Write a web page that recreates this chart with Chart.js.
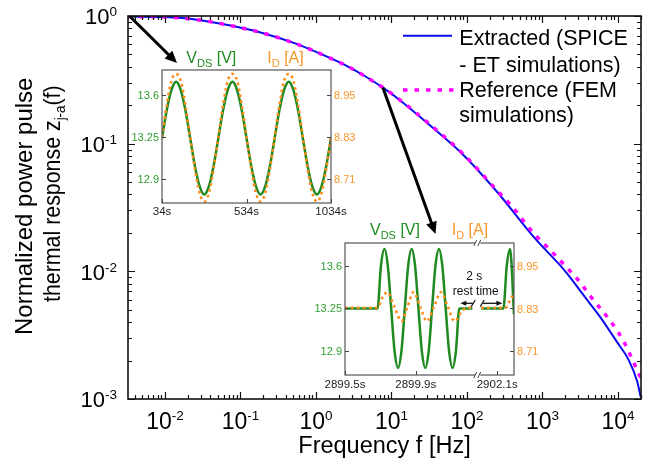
<!DOCTYPE html>
<html><head><meta charset="utf-8">
<script src="https://cdn.jsdelivr.net/npm/chart.js@4.4.1/dist/chart.umd.min.js"></script>
<style>
html,body{margin:0;padding:0;background:#fff;}
#wrap{position:relative;width:657px;height:461px;overflow:hidden;background:#fff;}
#wrap canvas{position:absolute;}
</style></head><body>
<div id="wrap">
<canvas id="main" width="657" height="461" style="left:0;top:0"></canvas>
<canvas id="in1" width="245" height="180" style="left:120px;top:42px"></canvas>
<canvas id="in2" width="250" height="182" style="left:298px;top:214px"></canvas>
</div>
<script>
// ---------------- main chart data ----------------
const freqExtracted = [0.00324, 0.01, 0.025, 0.068, 0.19, 0.53, 1.4, 2.7, 4.2, 7.7, 12, 32, 89, 250, 760, 2100, 3500, 5800, 9700, 14000, 18000, 20000];
const zExtracted    = [0.99, 0.98, 0.94, 0.85, 0.74, 0.61, 0.48, 0.40, 0.345, 0.275, 0.227, 0.14, 0.082, 0.042, 0.0187, 0.0097, 0.0065, 0.0044, 0.0028, 0.0020, 0.00137, 0.00104];
const freqReference = [0.00324, 0.01, 0.025, 0.068, 0.19, 0.53, 1.4, 2.7, 4.2, 7.7, 12, 32, 89, 250, 400, 750, 1200, 1900, 3000, 4500, 8400, 12000, 16000, 18500, 20200];
const zReference    = [0.99, 0.98, 0.94, 0.85, 0.74, 0.61, 0.48, 0.40, 0.345, 0.275, 0.228, 0.142, 0.083, 0.043, 0.032, 0.0201, 0.0152, 0.0114, 0.0085, 0.0062, 0.0039, 0.0028, 0.00196, 0.00162, 0.00146];
const xTickExponents = [-2, -1, 0, 1, 2, 3, 4];
const yTickExponents = [-3, -2, -1, 0];
const legendExtracted = ['Extracted (SPICE', '- ET simulations)'];
const legendReference = ['Reference (FEM', 'simulations)'];
const xTitle = 'Frequency f [Hz]';
const yTitle1 = 'Normalized power pulse';
const yTitle2 = ['thermal response z', 'j-a', '(f)'];
const arrowFromFreq = [0.00324, 7.7];
const arrowFromZ = [0.99, 0.275];

// ---------------- inset 1 (34 s .. 1034 s) ----------------
const inset1Time = [34, 61.8, 89.6, 117.3, 145.1, 172.9, 200.7, 228.4, 256.2, 284, 311.8, 339.6, 367.3, 395.1, 422.9, 450.7, 478.4, 506.2, 534, 561.8, 589.6, 617.3, 645.1, 672.9, 700.7, 728.4, 756.2, 784, 811.8, 839.6, 867.3, 895.1, 922.9, 950.7, 978.4, 1006.2, 1034];
const inset1Vds = [13.24, 13.47, 13.64, 13.71, 13.64, 13.47, 13.24, 13.01, 12.84, 12.77, 12.84, 13.01,
                   13.24, 13.47, 13.64, 13.71, 13.64, 13.47, 13.24, 13.01, 12.84, 12.77, 12.84, 13.01,
                   13.24, 13.47, 13.64, 13.71, 13.64, 13.47, 13.24, 13.01, 12.84, 12.77, 12.84, 13.01, 13.24];
const inset1Id = [8.83, 8.92, 8.99, 9.01, 8.99, 8.92, 8.83, 8.74, 8.67, 8.645, 8.67, 8.74,
                  8.83, 8.92, 8.99, 9.01, 8.99, 8.92, 8.83, 8.74, 8.67, 8.645, 8.67, 8.74,
                  8.83, 8.92, 8.99, 9.01, 8.99, 8.92, 8.83, 8.74, 8.67, 8.645, 8.67, 8.74, 8.83];
const inset1XTicks = [34, 534, 1034];
const inset1XLabels = ['34s', '534s', '1034s'];

// ---------------- inset 2 (2899.5 s .. 2902.2 s, broken axis) ----------------
const inset2VdsTime = [2899.5, 2899.684, 2899.703, 2899.723, 2899.742, 2899.761, 2899.780, 2899.800, 2899.819, 2899.838, 2899.857, 2899.877, 2899.896, 2899.915, 2899.934, 2899.954, 2899.973, 2899.992, 2900.011, 2900.031, 2900.050, 2900.069, 2900.088, 2900.108, 2900.127, 2900.146, 2900.22, 2901.5, 2902.01, 2902.135, 2902.154, 2902.173, 2902.195];
const inset2Vds = [13.25, 13.25, 13.60, 13.74, 13.60, 13.25, 12.90, 12.76, 12.90, 13.25, 13.60, 13.74, 13.60, 13.25, 12.90, 12.76, 12.90, 13.25, 13.60, 13.74, 13.60, 13.25, 12.90, 12.76, 12.90, 13.25, 13.25, null, 13.25, 13.25, 13.60, 13.74, 13.20];
const inset2IdTime = [2899.5, 2899.684, 2899.711, 2899.738, 2899.779, 2899.82, 2899.853, 2899.887, 2899.925, 2899.963, 2900.003, 2900.043, 2900.081, 2900.119, 2900.16, 2900.195, 2900.22, 2901.5, 2902.01, 2902.147, 2902.172, 2902.195];
const inset2Id = [8.832, 8.832, 8.86, 8.876, 8.835, 8.794, 8.835, 8.876, 8.835, 8.794, 8.835, 8.876, 8.835, 8.794, 8.822, 8.832, 8.832, null, 8.832, 8.832, 8.852, 8.872];
const inset2XTicks = [2899.5, 2899.9, 2902.1];
const inset2XLabels = ['2899.5s', '2899.9s', '2902.1s'];
const inset2Break = [2900.25, 2901.99];
const inset2RestLabel = ['2 s', 'rest time'];

const vdsTicks = [12.9, 13.25, 13.6];
const idTicks = [8.71, 8.83, 8.95];

const F = "'Liberation Sans', Arial, Helvetica, sans-serif";
Chart.defaults.font.family = F;
const GREEN = '#1f8a1f', GREEN_TXT = '#2f9e2f', ORANGE = '#ff8c1a', ORANGE_TXT = '#f7962a';

function logTicks(min, max) {
  const out = [];
  for (let d = Math.floor(Math.log10(min)); d <= Math.ceil(Math.log10(max)); d++) {
    for (let m = 1; m < 10; m++) {
      const v = m * Math.pow(10, d);
      if (v >= min * 0.999 && v <= max * 1.001) out.push({ v, major: m === 1 });
    }
  }
  return out;
}
function drawPow(ctx, exp, x, y, align, baseSize, expSize, rise) {
  ctx.font = baseSize + 'px ' + F; const wb = ctx.measureText('10').width;
  ctx.font = expSize + 'px ' + F; const es = String(exp); const we = ctx.measureText(es).width;
  const x0 = align === 'center' ? x - (wb + we) / 2 : x - (wb + we);
  ctx.textAlign = 'left'; ctx.textBaseline = 'alphabetic';
  ctx.font = baseSize + 'px ' + F; ctx.fillText('10', x0, y);
  ctx.font = expSize + 'px ' + F; ctx.fillText(es, x0 + wb, y - rise);
}
function arrow(ctx, x0, y0, x1, y1, lw, hl, hw) {
  const ang = Math.atan2(y1 - y0, x1 - x0);
  const bx = x1 - hl * Math.cos(ang), by = y1 - hl * Math.sin(ang);
  ctx.lineWidth = lw; ctx.beginPath(); ctx.moveTo(x0, y0); ctx.lineTo(bx + 1 * Math.cos(ang), by + 1 * Math.sin(ang)); ctx.stroke();
  ctx.beginPath(); ctx.moveTo(x1, y1);
  ctx.lineTo(bx + hw / 2 * Math.sin(ang), by - hw / 2 * Math.cos(ang));
  ctx.lineTo(bx - hw / 2 * Math.sin(ang), by + hw / 2 * Math.cos(ang));
  ctx.closePath(); ctx.fill();
}

const mainDeco = {
  id: 'mainDeco',
  afterDraw(chart) {
    const ctx = chart.ctx, a = chart.chartArea, xs = chart.scales.x, ys = chart.scales.y;
    ctx.save();
    ctx.strokeStyle = '#111'; ctx.lineWidth = 1.2;
    ctx.beginPath();
    for (const t of logTicks(xs.min, xs.max)) {
      const px = Math.round(xs.getPixelForValue(t.v)) + 0.5, L = t.major ? 7 : 4;
      ctx.moveTo(px, a.bottom); ctx.lineTo(px, a.bottom - L);
      ctx.moveTo(px, a.top); ctx.lineTo(px, a.top + L);
    }
    for (const t of logTicks(ys.min, ys.max)) {
      const py = Math.round(ys.getPixelForValue(t.v)) + 0.5, L = t.major ? 7 : 4;
      ctx.moveTo(a.left, py); ctx.lineTo(a.left + L, py);
      ctx.moveTo(a.right, py); ctx.lineTo(a.right - L, py);
    }
    ctx.stroke();
    ctx.lineWidth = 1.6; ctx.strokeRect(a.left, a.top, a.right - a.left, a.bottom - a.top);
    // tick labels
    ctx.fillStyle = '#000';
    for (const e of xTickExponents) drawPow(ctx, e, xs.getPixelForValue(Math.pow(10, e)), a.bottom + 30, 'center', 23, 13.5, 9.5);
    for (const e of yTickExponents) drawPow(ctx, e, a.left - 11, ys.getPixelForValue(Math.pow(10, e)) + 8.3, 'right', 22, 13.5, 8);
    // axis titles
    ctx.font = '23.5px ' + F; ctx.textAlign = 'center'; ctx.textBaseline = 'alphabetic';
    ctx.fillText(xTitle, (a.left + a.right) / 2, 453);
    ctx.save(); ctx.translate(32, 335); ctx.rotate(-Math.PI / 2);
    ctx.textAlign = 'left'; ctx.font = '24px ' + F; ctx.fillText(yTitle1, 0, 0);
    ctx.restore();
    ctx.save(); ctx.translate(60, 302); ctx.rotate(-Math.PI / 2); ctx.scale(0.89, 1);
    ctx.textAlign = 'left'; ctx.font = '24px ' + F; ctx.fillText(yTitle2[0], 0, 0);
    let w = ctx.measureText(yTitle2[0]).width;
    ctx.font = '15px ' + F; ctx.fillText(yTitle2[1], w, 5); w += ctx.measureText(yTitle2[1]).width;
    ctx.font = '24px ' + F; ctx.fillText(yTitle2[2], w, 0);
    ctx.restore();
    // legend
    const ds = chart.data.datasets;
    const lx0 = 403, lx1 = 452, tx = 459.3;
    ctx.font = '21.5px ' + F; ctx.textAlign = 'left'; ctx.fillStyle = '#000';
    const ext = ds[1], ref = ds[0];
    ctx.strokeStyle = ext.borderColor; ctx.lineWidth = ext.borderWidth; ctx.setLineDash([]);
    ctx.beginPath(); ctx.moveTo(lx0, 35.7); ctx.lineTo(lx1, 35.7); ctx.stroke();
    ctx.strokeStyle = ref.borderColor; ctx.lineWidth = ref.borderWidth; ctx.setLineDash(ref.borderDash);
    ctx.beginPath(); ctx.moveTo(lx0, 90); ctx.lineTo(lx1 + 3, 90); ctx.stroke();
    ctx.setLineDash([]);
    ctx.fillText(legendExtracted[0], tx, 45);
    ctx.fillText(legendExtracted[1], tx, 71.5);
    ctx.fillText(legendReference[0], tx, 97);
    ctx.fillText(legendReference[1], tx, 122);
    // arrows to the insets
    ctx.fillStyle = '#000'; ctx.strokeStyle = '#000';
    arrow(ctx, xs.getPixelForValue(arrowFromFreq[0]) + 2, ys.getPixelForValue(arrowFromZ[0]), 177, 63, 3, 12, 11);
    arrow(ctx, xs.getPixelForValue(arrowFromFreq[1]), ys.getPixelForValue(arrowFromZ[1]), 435.5, 234, 3, 12, 11);
    ctx.restore();
  }
};

new Chart(document.getElementById('main'), {
  type: 'line',
  data: {
    datasets: [
      { label: legendReference.join(' '), data: freqReference.map((f, i) => ({ x: f, y: zReference[i] })),
        borderColor: '#ff00ff', borderWidth: 3.5, borderDash: [4.5, 7], pointRadius: 0, cubicInterpolationMode: 'monotone', order: 1 },
      { label: legendExtracted.join(' '), data: freqExtracted.map((f, i) => ({ x: f, y: zExtracted[i] })),
        borderColor: '#0b0bef', borderWidth: 2, pointRadius: 0, cubicInterpolationMode: 'monotone', order: 2 }
    ]
  },
  options: {
    responsive: false, devicePixelRatio: 1, animation: false,
    layout: { padding: { left: 128, right: 16, top: 16, bottom: 62 } },
    plugins: { legend: { display: false }, tooltip: { enabled: false } },
    scales: {
      x: { type: 'logarithmic', min: 3.24e-3, max: 2.02e4, display: false },
      y: { type: 'logarithmic', min: 1e-3, max: 1, display: false }
    }
  },
  plugins: [mainDeco]
});

// ---------------- inset helper ----------------
function makeInset(id, cfg) {
  const deco = {
    id: 'insetDeco',
    beforeDraw(chart) {
      const a = chart.chartArea, ctx = chart.ctx;
      ctx.save(); ctx.fillStyle = '#fff'; ctx.fillRect(a.left, a.top, a.right - a.left, a.bottom - a.top); ctx.restore();
    },
    afterDraw(chart) {
      const a = chart.chartArea, ctx = chart.ctx, xs = chart.scales.x, y1 = chart.scales.y, y2 = chart.scales.y2;
      ctx.save();
      ctx.strokeStyle = '#555'; ctx.lineWidth = 1.2;
      ctx.strokeRect(a.left, a.top, a.right - a.left, a.bottom - a.top);
      ctx.lineWidth = 1; ctx.strokeStyle = '#444';
      ctx.beginPath();
      vdsTicks.forEach(v => { const p = Math.round(y1.getPixelForValue(v)) + 0.5; ctx.moveTo(a.left, p); ctx.lineTo(a.left + 4, p); });
      idTicks.forEach(v => { const p = Math.round(y2.getPixelForValue(v)) + 0.5; ctx.moveTo(a.right, p); ctx.lineTo(a.right - 4, p); });
      cfg.xTicks.forEach(v => { const p = Math.round(xs.getPixelForValue(cfg.map(v))) + 0.5; ctx.moveTo(p, a.bottom); ctx.lineTo(p, a.bottom - 4); });
      ctx.stroke();
      // tick labels
      ctx.font = '11px ' + F; ctx.textBaseline = 'middle';
      ctx.fillStyle = GREEN_TXT; ctx.textAlign = 'right';
      vdsTicks.forEach(v => ctx.fillText(String(v), a.left - 3, y1.getPixelForValue(v) + 1));
      ctx.fillStyle = ORANGE_TXT; ctx.textAlign = 'left';
      idTicks.forEach(v => ctx.fillText(String(v), a.right + 3, y2.getPixelForValue(v) + 1));
      ctx.font = '11.5px ' + F; ctx.fillStyle = '#222'; ctx.textAlign = 'center'; ctx.textBaseline = 'alphabetic';
      cfg.xTicks.forEach((v, i) => ctx.fillText(cfg.xLabels[i], xs.getPixelForValue(cfg.map(v)), a.bottom + cfg.xLabelDy));
      // headers
      const hdr = (x, main, sub, rest, color) => {
        ctx.fillStyle = color; ctx.textAlign = 'left'; ctx.font = '16px ' + F;
        ctx.fillText(main, x, a.top - cfg.hdrDy); let w = ctx.measureText(main).width;
        ctx.font = '11px ' + F; ctx.fillText(sub, x + w, a.top - cfg.hdrDy + 4); w += ctx.measureText(sub).width;
        ctx.font = '16px ' + F; ctx.fillText(rest, x + w, a.top - cfg.hdrDy);
      };
      hdr(a.left + cfg.hdrV, 'V', 'DS', ' [V]', GREEN);
      hdr(a.left + cfg.hdrI, 'I', 'D', ' [A]', ORANGE_TXT);
      if (cfg.breakAt) {
        const bx = xs.getPixelForValue(cfg.breakAt);
        ctx.fillStyle = '#fff';
        ctx.fillRect(bx - 2.5, a.top - 2, 5, 4); ctx.fillRect(bx - 2.5, a.bottom - 2, 5, 4);
        ctx.strokeStyle = '#444'; ctx.lineWidth = 1;
        ctx.beginPath();
        [a.top, a.bottom].forEach(yy => {
          [-2.5, 1.5].forEach(o => { ctx.moveTo(bx + o - 1.5, yy + 3); ctx.lineTo(bx + o + 1.5, yy - 3); });
        });
        ctx.stroke();
        // rest time annotation
        ctx.fillStyle = '#111'; ctx.strokeStyle = '#111';
        ctx.font = '12px ' + F; ctx.textAlign = 'center';
        ctx.fillText(cfg.rest[0], bx - 3.5, a.top + 37);
        ctx.fillText(cfg.rest[1], bx - 2, a.top + 51.5);
        const ay = a.top + 60.3;
        const xl = xs.getPixelForValue(cfg.map(cfg.restFrom)), xr = xs.getPixelForValue(cfg.map(cfg.restTo));
        arrow(ctx, bx - 5, ay, xl + 1, ay, 1.3, 6, 5);
        arrow(ctx, bx + 5, ay, xr - 1, ay, 1.3, 6, 5);
        ctx.lineWidth = 1.2; ctx.beginPath();
        ctx.moveTo(bx - 6.5, ay + 3.3); ctx.lineTo(bx - 2.5, ay - 3.3);
        ctx.moveTo(bx + 2.5, ay + 3.3); ctx.lineTo(bx + 6.5, ay - 3.3);
        ctx.stroke();
      }
      ctx.restore();
    }
  };
  return new Chart(document.getElementById(id), {
    type: 'line',
    data: {
      datasets: [
        { data: cfg.idTime.map((t, i) => ({ x: cfg.map(t), y: cfg.id[i] })), yAxisID: 'y2',
          borderColor: ORANGE, borderWidth: 2.6, borderDash: [2.6, 3.4], pointRadius: 0, cubicInterpolationMode: 'monotone', spanGaps: false, order: 1 },
        { data: cfg.vdsTime.map((t, i) => ({ x: cfg.map(t), y: cfg.vds[i] })), yAxisID: 'y',
          borderColor: GREEN, borderWidth: 2.5, pointRadius: 0, cubicInterpolationMode: 'monotone', spanGaps: false, order: 2 }
      ]
    },
    options: {
      responsive: false, devicePixelRatio: 1, animation: false,
      layout: { padding: cfg.pad },
      plugins: { legend: { display: false }, tooltip: { enabled: false } },
      scales: {
        x: { type: 'linear', min: cfg.xMin, max: cfg.xMax, display: false },
        y: { type: 'linear', min: cfg.yMin, max: cfg.yMax, display: false },
        y2: { type: 'linear', position: 'right', min: cfg.y2Min, max: cfg.y2Max, display: false }
      }
    },
    plugins: [deco]
  });
}

makeInset('in1', {
  pad: { left: 42, right: 34, top: 28, bottom: 19 },
  map: t => t, xMin: 34, xMax: 1034,
  yMin: 12.70, yMax: 13.808, y2Min: 8.641, y2Max: 9.021,
  vdsTime: inset1Time, vds: inset1Vds, idTime: inset1Time, id: inset1Id,
  xTicks: inset1XTicks, xLabels: inset1XLabels, xLabelDy: 11.5,
  hdrV: 24.3, hdrI: 105.3, hdrDy: 6.7
});

const gap = inset2Break[1] - inset2Break[0];
const map2 = t => t >= inset2Break[1] ? t - gap : (t > inset2Break[0] ? inset2Break[0] : t);
makeInset('in2', {
  pad: { left: 47, right: 34, top: 29, bottom: 21 },
  map: map2, xMin: 2899.5, xMax: map2(2902.195),
  yMin: 12.702, yMax: 13.789, y2Min: 8.642, y2Max: 9.015,
  vdsTime: inset2VdsTime, vds: inset2Vds, idTime: inset2IdTime, id: inset2Id,
  xTicks: inset2XTicks, xLabels: inset2XLabels, xLabelDy: 13,
  hdrV: 25, hdrI: 106.7, hdrDy: 8,
  breakAt: inset2Break[0], rest: inset2RestLabel, restFrom: 2900.146, restTo: 2902.135
});
</script>
</body></html>
